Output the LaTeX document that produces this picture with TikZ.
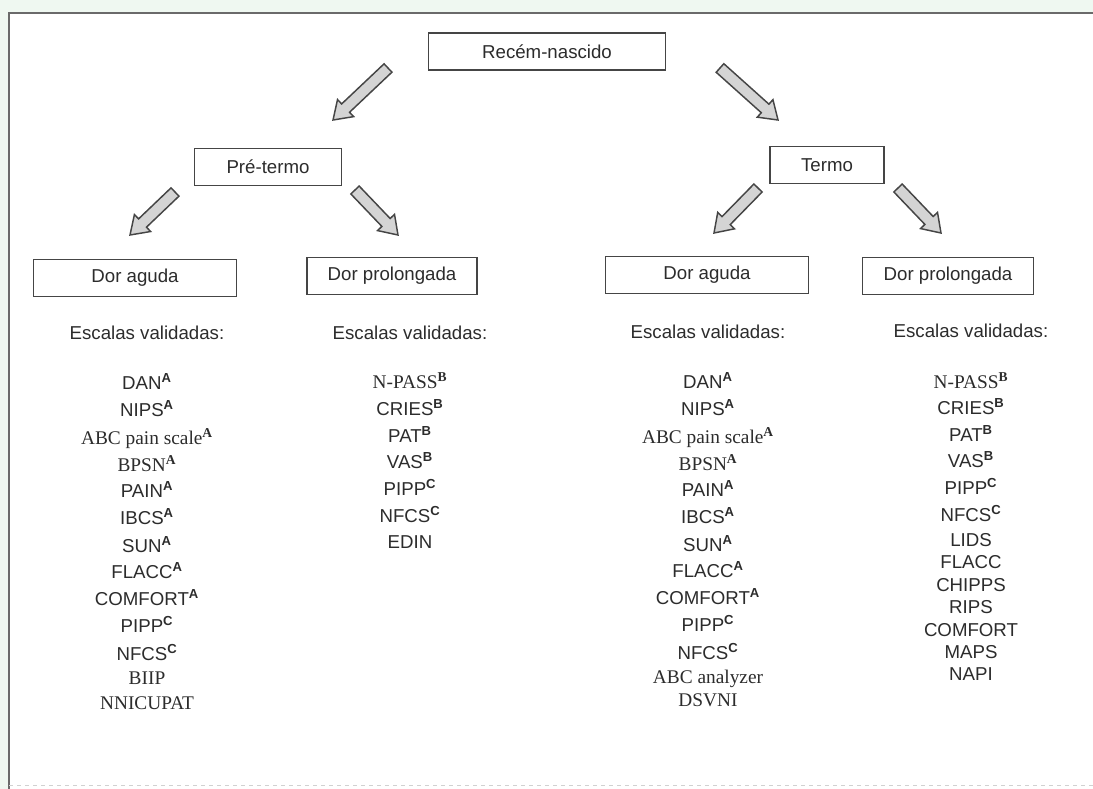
\documentclass[tikz,border=0pt]{standalone}
\usepackage{fontspec}
\setmainfont{Liberation Sans}
\newfontfamily\timesfont{Liberation Serif}
\usetikzlibrary{calc}

\definecolor{framegreen}{HTML}{EFF8F1}
\definecolor{boxline}{HTML}{454545}
\definecolor{inkgray}{HTML}{2C2C2C}
\definecolor{arrowfill}{HTML}{D4D4D4}

\newcommand{\supA}{\textsuperscript{\bfseries A}}
\newcommand{\supB}{\textsuperscript{\bfseries B}}
\newcommand{\supC}{\textsuperscript{\bfseries C}}

% block arrow from #1 to #2
\newcommand{\blockarrow}[2]{%
  \coordinate (neck) at ($(#2)!13pt!(#1)$);
  \filldraw[fatarrow] ($(#1)!4.3pt!90:(#2)$) -- ($(neck)!4.3pt!90:(#2)$)
    -- ($(neck)!8.8pt!90:(#2)$) -- (#2) -- ($(neck)!8.8pt!-90:(#2)$)
    -- ($(neck)!4.3pt!-90:(#2)$) -- ($(#1)!4.3pt!-90:(#2)$) -- cycle;
}

\tikzset{
  box/.style={draw=boxline, line width=1.2pt, minimum height=27.5pt, inner sep=2pt,
    text=inkgray, font=\fontsize{14}{16}\selectfont},
  scalename/.style={anchor=base, text=inkgray, inner sep=0pt, font=\fontsize{14}{16}\selectfont},
  timesname/.style={scalename, font=\fontsize{14.5}{16}\selectfont\timesfont},
  fatarrow/.style={fill=arrowfill, draw=boxline, line width=1.1pt, line join=miter},
  frameline/.style={draw=boxline!80, line width=1.6pt}
}

\begin{document}
\begin{tikzpicture}[x=0.75pt, y=-0.75pt]
\useasboundingbox (0,0) rectangle (1093,789);

%the frame
\fill[framegreen] (0,0) rectangle (1093,789);
\fill[white] (9,13) rectangle (1093,789);
\draw[frameline] (9,789) -- (9,13) -- (1093,13);
\draw[boxline!25, dashed, line width=0.6pt] (9,785) -- (1093,785);

%the boxes
\node[box, minimum width=178pt] (recem) at (547,51.5) {Recém-nascido};
\node[box, minimum width=110pt] (pre) at (268,167) {Pré-termo};
\node[box, minimum width=85.5pt] (termo) at (827,165) {Termo};
\node[box, minimum width=152pt] (pre-aguda) at (135,278) {Dor aguda};
\node[box, minimum width=127.5pt] (pre-prol) at (392,276) {Dor prolongada};
\node[box, minimum width=152pt] (termo-aguda) at (707,275) {Dor aguda};
\node[box, minimum width=128pt] (termo-prol) at (948,276) {Dor prolongada};

%the arrows
\coordinate (a1s) at (388,68);  \coordinate (a1e) at (333,120);
\coordinate (a2s) at (720,68);  \coordinate (a2e) at (778,120);
\coordinate (a3s) at (175,192); \coordinate (a3e) at (130,235);
\coordinate (a4s) at (355,190); \coordinate (a4e) at (398,235);
\coordinate (a5s) at (758,188); \coordinate (a5e) at (714,233);
\coordinate (a6s) at (898,188); \coordinate (a6e) at (941,233);
\blockarrow{a1s}{a1e}
\blockarrow{a2s}{a2e}
\blockarrow{a3s}{a3e}
\blockarrow{a4s}{a4e}
\blockarrow{a5s}{a5e}
\blockarrow{a6s}{a6e}

%the headings
\node[scalename] (pa-head) at (147,339) {Escalas validadas:};
\node[scalename] (pp-head) at (410,339) {Escalas validadas:};
\node[scalename] (ta-head) at (708,338) {Escalas validadas:};
\node[scalename] (tp-head) at (971,337) {Escalas validadas:};

%the scales
\foreach \y/\s/\t [count=\i] in {389/scalename/{DAN\supA}, 416/scalename/{NIPS\supA},
  444/timesname/{ABC pain scale\supA}, 471/timesname/{BPSN\supA}, 497/scalename/{PAIN\supA},
  524/scalename/{IBCS\supA}, 552/scalename/{SUN\supA}, 578/scalename/{FLACC\supA},
  605/scalename/{COMFORT\supA}, 632/scalename/{PIPP\supC}, 660/scalename/{NFCS\supC},
  684/timesname/{BIIP}, 709/timesname/{NNICUPAT}}
  \node[\s] (pa-\i) at (147,\y) {\t};

\foreach \y/\s/\t [count=\i] in {388/timesname/{N-PASS\supB}, 415/scalename/{CRIES\supB},
  442/scalename/{PAT\supB}, 468/scalename/{VAS\supB}, 495/scalename/{PIPP\supC},
  522/scalename/{NFCS\supC}, 548/scalename/{EDIN}}
  \node[\s] (pp-\i) at (410,\y) {\t};

\foreach \y/\s/\t [count=\i] in {388/scalename/{DAN\supA}, 415/scalename/{NIPS\supA},
  443/timesname/{ABC pain scale\supA}, 470/timesname/{BPSN\supA}, 496/scalename/{PAIN\supA},
  523/scalename/{IBCS\supA}, 551/scalename/{SUN\supA}, 577/scalename/{FLACC\supA},
  604/scalename/{COMFORT\supA}, 631/scalename/{PIPP\supC}, 659/scalename/{NFCS\supC},
  683/timesname/{ABC analyzer}, 706/timesname/{DSVNI}}
  \node[\s] (ta-\i) at (708,\y) {\t};

\foreach \y/\s/\t [count=\i] in {388/timesname/{N-PASS\supB}, 414/scalename/{CRIES\supB},
  441/scalename/{PAT\supB}, 467/scalename/{VAS\supB}, 494/scalename/{PIPP\supC},
  521/scalename/{NFCS\supC}, 546/scalename/{LIDS}, 568/scalename/{FLACC},
  591/scalename/{CHIPPS}, 613/scalename/{RIPS}, 636/scalename/{COMFORT},
  658/scalename/{MAPS}, 680/scalename/{NAPI}}
  \node[\s] (tp-\i) at (971,\y) {\t};
\end{tikzpicture}
\end{document}
